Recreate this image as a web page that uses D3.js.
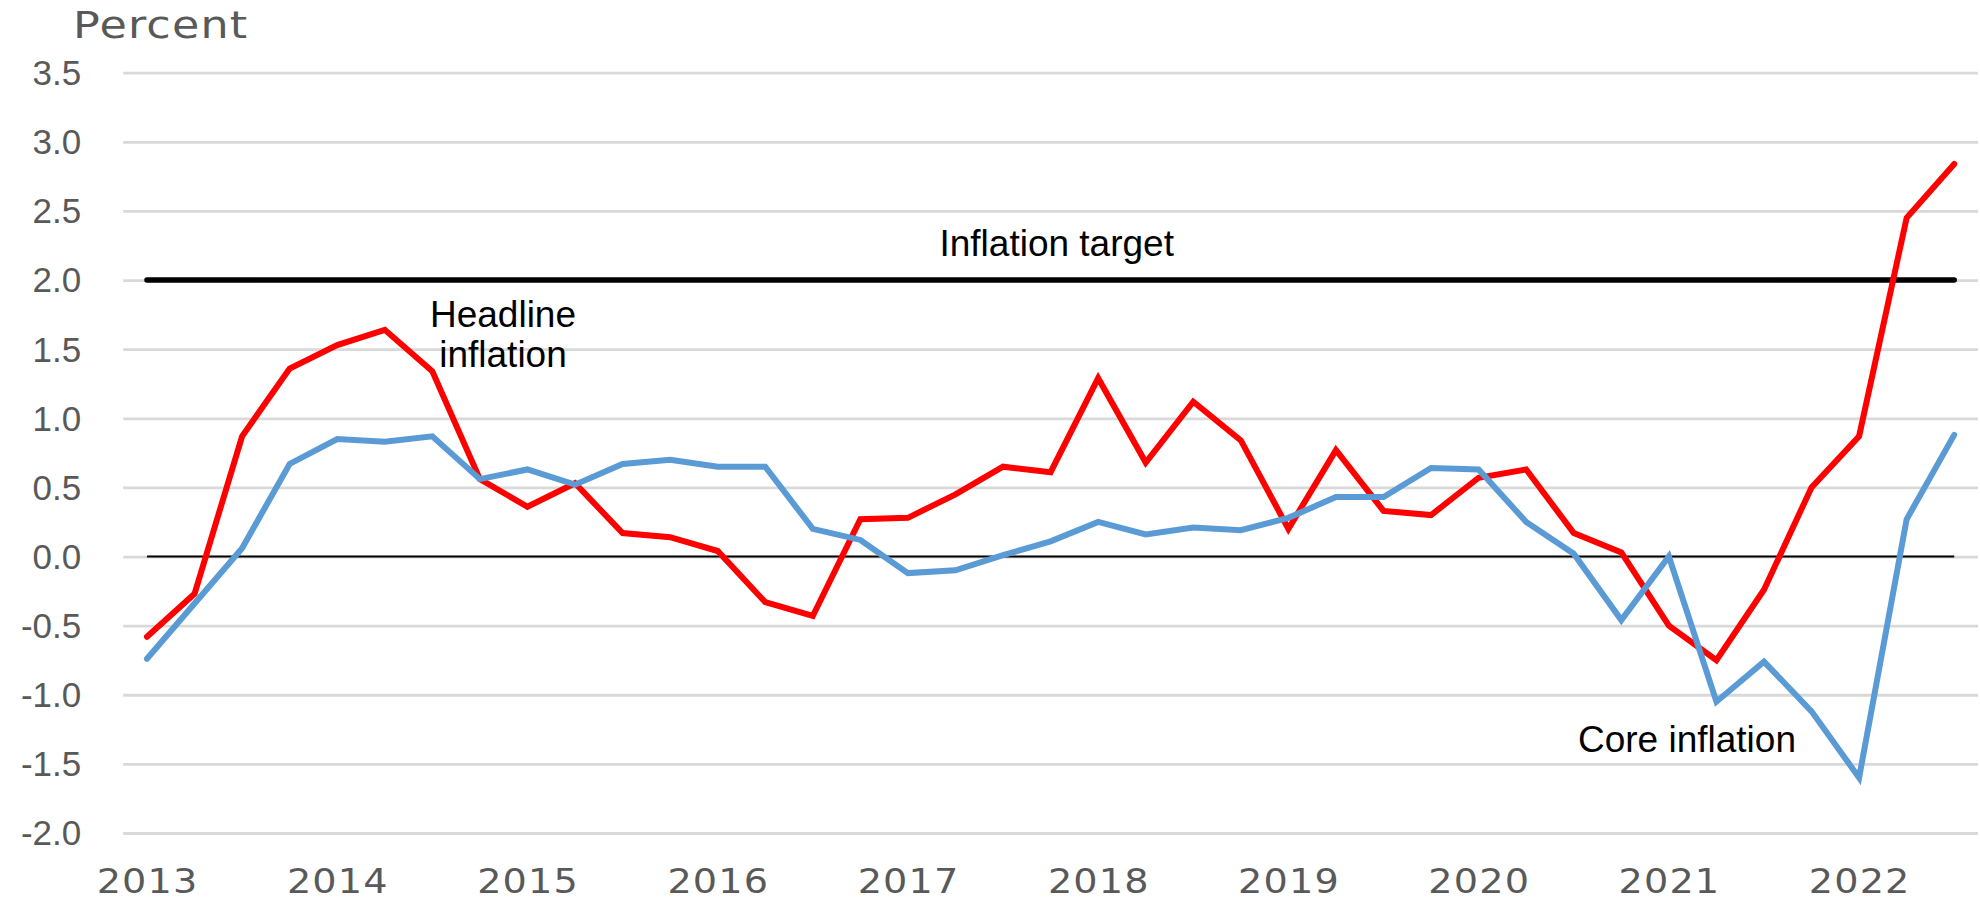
<!DOCTYPE html>
<html>
<head>
<meta charset="utf-8">
<script src="https://cdn.jsdelivr.net/npm/d3@7"></script>
<style>
  html, body { margin: 0; padding: 0; background: #ffffff; }
  svg { display: block; }
</style>
</head>
<body>
<svg id="chart" width="1980" height="900"></svg>
<script>
// Quarterly inflation, 2013Q1 to 2022Q3 (percent)
const years = [2013, 2014, 2015, 2016, 2017, 2018, 2019, 2020, 2021, 2022];
const quarters = [];
years.forEach(y => [1, 2, 3, 4].forEach(q => quarters.push(y + "Q" + q)));
quarters.splice(39); // series ends at 2022Q3

const headline = [-0.58, -0.27, 0.87, 1.36, 1.53, 1.64, 1.34, 0.56, 0.36, 0.53,
                  0.17, 0.14, 0.04, -0.33, -0.43, 0.27, 0.28, 0.45, 0.65, 0.61,
                  1.29, 0.68, 1.12, 0.84, 0.20, 0.77, 0.33, 0.30, 0.57, 0.63,
                  0.17, 0.03, -0.50, -0.75, -0.24, 0.50, 0.87, 2.45, 2.84];

const core = [-0.74, -0.34, 0.06, 0.67, 0.85, 0.83, 0.87, 0.56, 0.63, 0.52,
              0.67, 0.70, 0.65, 0.65, 0.20, 0.12, -0.12, -0.10, 0.01, 0.11,
              0.25, 0.16, 0.21, 0.19, 0.28, 0.43, 0.43, 0.64, 0.63, 0.25,
              0.02, -0.46, 0.00, -1.05, -0.76, -1.12, -1.60, 0.27, 0.88];

const inflationTarget = 2.0;
const yTicks = [-2.0, -1.5, -1.0, -0.5, 0.0, 0.5, 1.0, 1.5, 2.0, 2.5, 3.0, 3.5];
const yearTicks = years.map(y => y + "Q1");

const svg = d3.select("#chart");

const plot = { left: 123.2, right: 1978, top: 72.7, bottom: 833 };

const x = d3.scaleBand().domain(quarters).range([plot.left, plot.right]).padding(0);
const xc = q => x(q) + x.bandwidth() / 2;
const y = d3.scaleLinear().domain([-2, 3.5]).range([plot.bottom, plot.top]);

// Horizontal gridlines and value labels
const yAxis = d3.axisLeft(y)
  .tickValues(yTicks)
  .tickSize(-(plot.right - plot.left))
  .tickPadding(42)
  .tickFormat(d => d.toFixed(1));

const gy = svg.append("g")
  .attr("transform", `translate(${plot.left},0)`)
  .call(yAxis);
gy.select(".domain").remove();
gy.selectAll(".tick line").attr("stroke", "#d9d9d9").attr("stroke-width", 2.8);
gy.selectAll(".tick text")
  .attr("fill", "#595959")
  .attr("font-family", "'Liberation Sans', Arial, sans-serif")
  .attr("font-size", 35)
  .attr("dy", "0.34em");

// Year labels along the bottom (wide lettering)
const xAxis = d3.axisBottom(x)
  .tickValues(yearTicks)
  .tickSize(0)
  .tickPadding(0)
  .tickFormat(q => q.slice(0, 4));

const gx = svg.append("g")
  .attr("transform", `translate(0,${plot.bottom})`)
  .call(xAxis);
gx.select(".domain").remove();
gx.selectAll(".tick text")
  .attr("fill", "#595959")
  .attr("font-family", "'DejaVu Sans', Verdana, sans-serif")
  .attr("font-size", 33.5)
  .attr("letter-spacing", 1)
  .attr("dx", 0.5)
  .attr("y", 60.5)
  .attr("dy", 0)
  .attr("transform", "scale(1.14,1)");

// Unit label
svg.append("text")
  .attr("transform", "translate(73,38.3) scale(1.2,1)")
  .attr("fill", "#595959")
  .attr("font-family", "'DejaVu Sans', Verdana, sans-serif")
  .attr("font-size", 37)
  .attr("letter-spacing", 1)
  .text("Percent");

const x0 = xc(quarters[0]);
const x1 = xc(quarters[quarters.length - 1]);

// Zero line
svg.append("line")
  .attr("x1", x0).attr("x2", x1)
  .attr("y1", y(0)).attr("y2", y(0))
  .attr("stroke", "#000").attr("stroke-width", 2);

// Inflation target line
svg.append("line")
  .attr("x1", x0).attr("x2", x1)
  .attr("y1", y(inflationTarget)).attr("y2", y(inflationTarget))
  .attr("stroke", "#000").attr("stroke-width", 5.5)
  .attr("stroke-linecap", "round");

const line = d3.line()
  .x((d, i) => xc(quarters[i]))
  .y(d => y(d));

svg.append("path")
  .datum(headline)
  .attr("d", line)
  .attr("fill", "none")
  .attr("stroke", "#ff0000")
  .attr("stroke-width", 6)
  .attr("stroke-linecap", "round");

svg.append("path")
  .datum(core)
  .attr("d", line)
  .attr("fill", "none")
  .attr("stroke", "#5b9bd5")
  .attr("stroke-width", 6)
  .attr("stroke-linecap", "round");

// Series annotations
const annFont = "'Liberation Sans', Arial, sans-serif";
function note(lines, cx, baseline, lh) {
  const t = svg.append("text")
    .attr("text-anchor", "middle")
    .attr("font-family", annFont)
    .attr("font-size", 37)
    .attr("fill", "#000");
  lines.forEach((s, i) => {
    t.append("tspan").attr("x", cx).attr("y", baseline + i * lh).text(s);
  });
}
note(["Inflation target"], 1056.7, 255.7, 0);
note(["Headline", "inflation"], 503, 326.7, 40.6);
note(["Core inflation"], 1687, 751.7, 0);
</script>
</body>
</html>
